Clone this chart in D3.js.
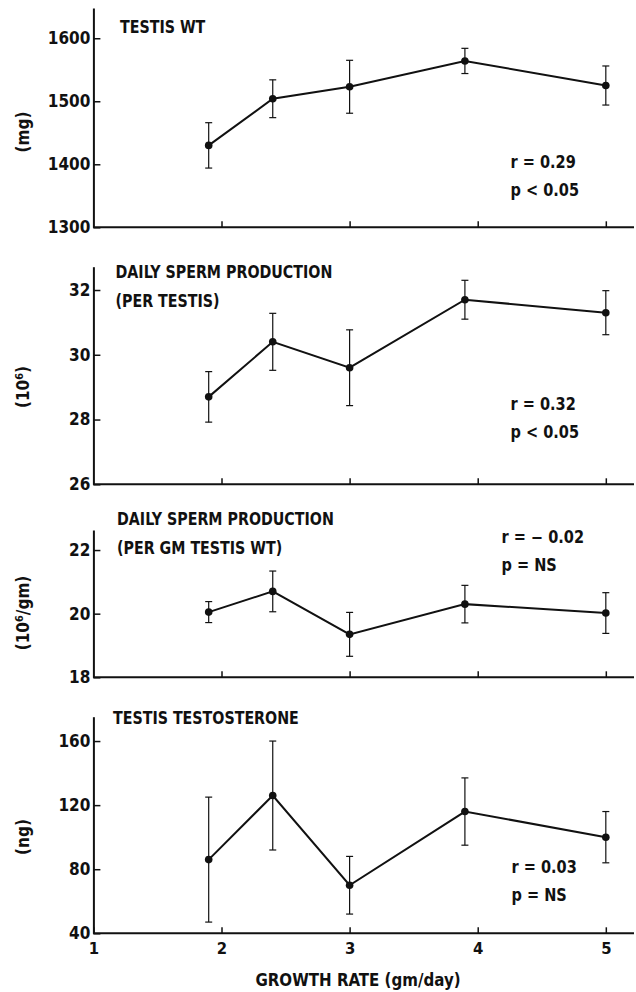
<!DOCTYPE html>
<html>
<head>
<meta charset="utf-8">
<script src="https://cdn.jsdelivr.net/npm/d3@7"></script>
<style>
  html, body { margin: 0; padding: 0; background: #fff; }
  svg text {
    font-family: "DejaVu Sans Condensed", "DejaVu Sans", sans-serif;
    font-stretch: condensed;
    font-weight: bold;
    fill: #111;
  }
</style>
</head>
<body>
<svg id="chart" width="636" height="992"></svg>
<script>
// Growth rate groups (gm/day) shared by all four panels
const growthRate = [1.9, 2.4, 3.0, 3.9, 5.0];
const xTicks = [1, 2, 3, 4, 5];

// Testis weight (mg), mean and SE
const testisWt = [1430, 1504, 1523, 1564, 1525];
const testisWtSE = [36, 30, 42, 20, 31];
const testisWtTicks = [1300, 1400, 1500, 1600];

// Daily sperm production per testis (10^6)
const dspTestis = [28.7, 30.4, 29.6, 31.7, 31.3];
const dspTestisSE = [0.78, 0.88, 1.17, 0.6, 0.68];
const dspTestisTicks = [26, 28, 30, 32];

// Daily sperm production per gram testis (10^6/gm)
const dspGram = [20.05, 20.7, 19.35, 20.3, 20.02];
const dspGramSE = [0.33, 0.64, 0.69, 0.59, 0.64];
const dspGramTicks = [18, 20, 22];

// Testis testosterone (ng)
const testosterone = [86, 126, 70, 116, 100];
const testosteroneSE = [39, 34, 18, 21, 16];
const testosteroneTicks = [40, 80, 120, 160];

const svg = d3.select("#chart");
const axisX0 = 93.4, axisX1 = 634;

const x = d3.scaleLinear().domain([1, 5.22]).range([axisX0, axisX1]);

// Tall, narrow lettering: larger size squeezed horizontally
function label(parent, tx, ty, text, size, sx, anchor) {
  return parent.append("text")
    .attr("transform", `translate(${tx},${ty}) scale(${sx},1)`)
    .attr("text-anchor", anchor || "start")
    .attr("font-size", size)
    .text(text);
}

const panels = [
  { title: ["TESTIS WT"], unit: [["(mg)"]], values: testisWt, se: testisWtSE, ticks: testisWtTicks,
    domain: [1300, 1648], range: [227.3, 8], titleX: 120, titleY: 33, unitY: 132,
    stats: ["r = 0.29", "p < 0.05"], statX: 510.5, statY: 168 },
  { title: ["DAILY SPERM PRODUCTION", "(PER TESTIS)"], unit: [["(10"], ["6", true], [")"]],
    values: dspTestis, se: dspTestisSE, ticks: dspTestisTicks,
    domain: [26, 32.72], range: [484.3, 266.7], titleX: 115.5, titleY: 278, unitY: 387,
    stats: ["r = 0.32", "p < 0.05"], statX: 510.5, statY: 410 },
  { title: ["DAILY SPERM PRODUCTION", "(PER GM TESTIS WT)"], unit: [["(10"], ["6", true], ["/gm)"]],
    values: dspGram, se: dspGramSE, ticks: dspGramTicks,
    domain: [18, 22.63], range: [677.3, 530], titleX: 117, titleY: 525, unitY: 613,
    stats: ["r = \u2212 0.02", "p = NS"], statX: 501.5, statY: 543 },
  { title: ["TESTIS TESTOSTERONE"], unit: [["(ng)"]], values: testosterone, se: testosteroneSE,
    ticks: testosteroneTicks, domain: [40, 175.2], range: [933.3, 716.7], titleX: 113, titleY: 724, unitY: 837,
    stats: ["r = 0.03", "p = NS"], statX: 511.5, statY: 873, last: true }
];

panels.forEach(p => {
  const y = d3.scaleLinear().domain(p.domain).range(p.range);
  const g = svg.append("g");

  // Left axis with inward ticks
  const yAxis = g.append("g")
    .attr("transform", `translate(${axisX0},0)`)
    .call(d3.axisLeft(y).tickValues(p.ticks).tickFormat(d3.format("d"))
      .tickSizeInner(-7).tickSizeOuter(0).tickPadding(3));
  yAxis.select(".domain").attr("stroke", "#111").attr("stroke-width", 2);
  yAxis.selectAll(".tick line").attr("stroke", "#111").attr("stroke-width", 1.5);
  yAxis.selectAll(".tick text").attr("font-size", 17).attr("font-family", null).attr("x", -3);

  // Bottom axis with inward ticks
  const xAxis = g.append("g")
    .attr("transform", `translate(0,${p.range[0]})`)
    .call(d3.axisBottom(x).tickValues(p.last ? xTicks : xTicks.slice(1))
      .tickSizeInner(-6).tickSizeOuter(0).tickPadding(8.5)
      .tickFormat(p.last ? d3.format("d") : () => ""));
  xAxis.select(".domain").attr("stroke", "#111").attr("stroke-width", 2)
    .attr("d", `M${axisX0},0H${axisX1}`);
  xAxis.selectAll(".tick line").attr("stroke", "#111").attr("stroke-width", 1.5);
  xAxis.selectAll(".tick text").attr("font-size", 16.5).attr("font-family", null);

  // Panel title lines
  p.title.forEach((t, i) => label(g, p.titleX, p.titleY + i * 28.5, t, 18, 0.88));

  // Rotated unit label
  const ut = g.append("text")
    .attr("transform", `translate(29,${p.unitY}) rotate(-90)`)
    .attr("text-anchor", "middle").attr("font-size", 17);
  let raised = false;
  p.unit.forEach(([s, sup]) => {
    const ts = ut.append("tspan").text(s);
    if (sup) { ts.attr("dy", -6).attr("font-size", 11); raised = true; }
    else if (raised) { ts.attr("dy", 6); raised = false; }
  });

  // Error bars (mean ± SE)
  const cap = 3.5;
  const eb = g.append("g").attr("stroke", "#111").attr("stroke-width", 1.2);
  growthRate.forEach((gr, i) => {
    const cx = x(gr), hi = y(p.values[i] + p.se[i]), lo = y(p.values[i] - p.se[i]);
    eb.append("line").attr("x1", cx).attr("x2", cx).attr("y1", hi).attr("y2", lo);
    eb.append("line").attr("x1", cx - cap).attr("x2", cx + cap).attr("y1", hi).attr("y2", hi);
    eb.append("line").attr("x1", cx - cap).attr("x2", cx + cap).attr("y1", lo).attr("y2", lo);
  });

  // Mean line and markers
  const pts = growthRate.map((gr, i) => [gr, p.values[i]]);
  g.append("path").datum(pts)
    .attr("fill", "none").attr("stroke", "#111").attr("stroke-width", 2)
    .attr("d", d3.line().x(d => x(d[0])).y(d => y(d[1])));
  g.append("g").selectAll("circle").data(pts).join("circle")
    .attr("cx", d => x(d[0])).attr("cy", d => y(d[1])).attr("r", 3.8).attr("fill", "#111");

  // Correlation statistics
  p.stats.forEach((s, i) => label(g, p.statX, p.statY + i * 28, s, 17, 0.95));
});

// X axis title
label(svg, 358, 986, "GROWTH RATE (gm/day)", 18, 0.93, "middle");
</script>
</body>
</html>
